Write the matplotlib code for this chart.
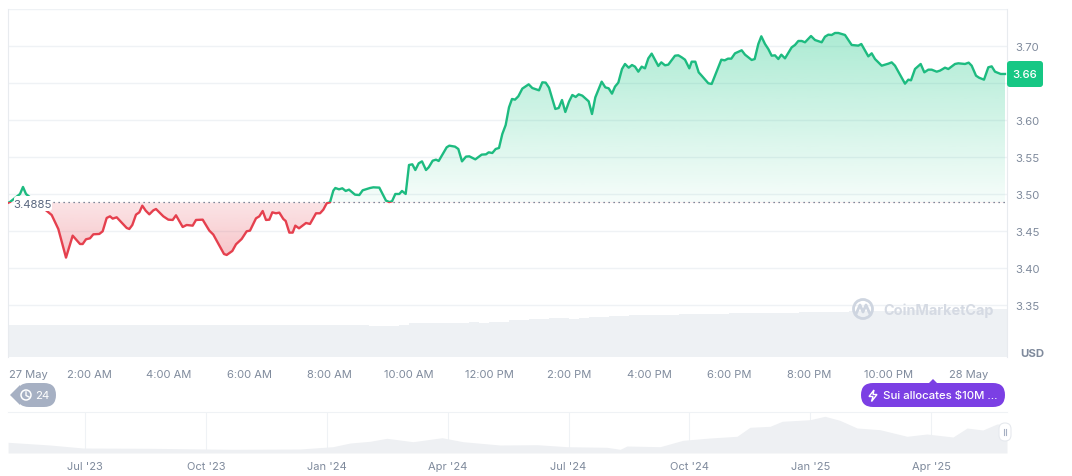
import matplotlib
matplotlib.use('Agg')
import matplotlib.pyplot as plt
import numpy as np
from matplotlib.patches import Circle, FancyBboxPatch, PathPatch, Polygon, Rectangle
from matplotlib.path import Path

plt.rcParams['font.family'] = ['Inter', 'DejaVu Sans']

# hours since 27 May 00:00
hours = [-0.025, 0.025, 0.275, 0.35, 0.425, 0.7,
         1.067, 1.233, 1.425, 1.592, 1.775, 1.842, 1.925, 2.025, 2.108, 2.258, 2.342, 2.442, 2.525, 2.592,
         2.692, 2.942, 3.008, 3.083, 3.175, 3.258, 3.333, 3.417, 3.508, 3.608, 3.675, 3.858, 3.983, 4.092,
         4.175, 4.342, 4.442, 4.592, 4.675, 4.842, 5.008, 5.108, 5.375, 5.442, 5.583, 5.675, 5.817, 5.942,
         6.025, 6.175, 6.258, 6.342, 6.425, 6.508, 6.583, 6.675, 6.758, 6.858, 6.917, 7.008, 7.092, 7.158,
         7.25, 7.425, 7.525, 7.675, 7.775, 7.858, 7.942,
         8.025, 8.108, 8.158, 8.25, 8.333, 8.417, 8.5, 8.65, 8.758, 8.842, 9.025, 9.108, 9.258, 9.425, 9.508,
         9.575, 9.658, 9.758, 9.825, 9.917, 10.0, 10.083, 10.158, 10.242, 10.325, 10.425, 10.492, 10.592,
         10.675, 10.742, 10.942, 11.008, 11.15, 11.233, 11.325, 11.425, 11.508, 11.658, 11.817, 11.925,
         11.992, 12.083, 12.167, 12.25, 12.333, 12.417, 12.5, 12.575, 12.65, 12.733, 12.833, 12.992, 13.083,
         13.25, 13.333, 13.417, 13.5, 13.658, 13.742, 13.825, 13.908, 14.0, 14.083, 14.167, 14.242, 14.333,
         14.492, 14.575, 14.658, 14.817, 14.908, 14.992, 15.075, 15.15, 15.233, 15.325, 15.4, 15.492, 15.575,
         15.65, 15.733, 15.817, 15.9, 15.983, 16.067, 16.233, 16.308, 16.4, 16.483, 16.65, 16.733, 16.817,
         16.9, 17.008,
         17.067, 17.158, 17.242, 17.317, 17.483, 17.567, 17.808, 17.892, 17.975, 18.058, 18.15, 18.317, 18.4,
         18.567, 18.642, 18.733, 18.808, 18.9, 18.983, 19.067, 19.15, 19.233, 19.308, 19.4, 19.567, 19.65,
         19.733, 19.817, 19.9, 20.05, 20.15, 20.317, 20.4, 20.483, 20.567, 20.65, 20.733, 20.9, 21.067, 21.233,
         21.308, 21.483, 21.567, 21.65, 21.817, 21.983, 22.067, 22.15, 22.4, 22.483, 22.55, 22.65, 22.792,
         22.883, 22.983, 23.067, 23.192, 23.275, 23.4, 23.483, 23.65, 23.733, 23.9, 23.992, 24.067, 24.175,
         24.25, 24.375, 24.483, 24.567, 24.65, 24.792, 24.9]
price = [3.488, 3.4892, 3.5, 3.5095, 3.5, 3.488,
         3.4716, 3.4527, 3.414, 3.4437, 3.4324, 3.4324, 3.4388, 3.4401, 3.4455, 3.446, 3.4496, 3.4676, 3.4698, 3.4667,
         3.4685, 3.4541, 3.4527, 3.4581, 3.4721, 3.4752, 3.4842, 3.4775, 3.4725, 3.4779, 3.4797, 3.4698, 3.4653, 3.4649,
         3.4712, 3.4554, 3.4581, 3.4572, 3.4649, 3.4653, 3.4505, 3.4451, 3.4189, 3.4176, 3.423, 3.432, 3.4392, 3.4496,
         3.4505, 3.4671, 3.4698, 3.477, 3.4649, 3.4653, 3.4752, 3.4739, 3.4748, 3.4662, 3.4635, 3.4478, 3.4478, 3.4572,
         3.4536, 3.4608, 3.4595, 3.4739, 3.4739, 3.4788, 3.4874,
         3.4888, 3.5045, 3.5081, 3.5063, 3.5077, 3.5041, 3.5059, 3.4991, 3.4986, 3.505, 3.5081, 3.509, 3.5086, 3.491, 3.4892,
         3.4901, 3.5, 3.5, 3.5041, 3.5, 3.5392, 3.5401, 3.5324, 3.5414, 3.5441, 3.5324, 3.536, 3.545,
         3.5464, 3.5446, 3.5631, 3.5653, 3.564, 3.5608, 3.5441, 3.5505, 3.5509, 3.5468, 3.5532, 3.5536,
         3.5563, 3.5554, 3.5608, 3.5622, 3.5811, 3.5932, 3.6171, 3.6284, 3.6275, 3.632, 3.6424, 3.6482, 3.6432,
         3.6401, 3.6509, 3.6505, 3.6437, 3.6149, 3.6162, 3.627, 3.6108, 3.6248, 3.6338, 3.6311, 3.6347, 3.6329,
         3.6252, 3.6081, 3.6306, 3.6518, 3.6441, 3.6428, 3.6356, 3.6451, 3.6505, 3.6689, 3.6757, 3.6707, 3.6743,
         3.6721, 3.6653, 3.6721, 3.6698, 3.6833, 3.6897, 3.673, 3.6779, 3.6739, 3.6748, 3.6869, 3.6874, 3.6847,
         3.6815, 3.6698,
         3.6788, 3.6788, 3.6644, 3.6599, 3.6496, 3.6487, 3.6815, 3.6806, 3.6829, 3.6829, 3.6901, 3.6942, 3.6883,
         3.6811, 3.6824, 3.7027, 3.7131, 3.7027, 3.6959, 3.6869, 3.6874, 3.6824, 3.6883, 3.6833, 3.6982, 3.7014,
         3.7068, 3.7068, 3.705, 3.7135, 3.7081, 3.705, 3.7126, 3.7153, 3.7149, 3.7176, 3.7176, 3.7149, 3.7014, 3.7005,
         3.7027, 3.686, 3.6901, 3.6824, 3.6734, 3.6761, 3.6779, 3.6734, 3.6491, 3.6545, 3.6536, 3.6689, 3.6757,
         3.6644, 3.668, 3.668, 3.6653, 3.6667, 3.6707, 3.6689, 3.6757, 3.6766, 3.6757, 3.6775, 3.6734, 3.6599,
         3.6572, 3.6545, 3.6712, 3.6725, 3.6653, 3.6622, 3.6622]

base_price = 3.4885
last_price = 3.662

# volume read every 15 minutes, relative height
volume = [32, 32, 32, 32, 32.5, 32, 32, 32, 32.5, 32.5, 32, 32, 32, 32, 32.5, 32.5, 32, 32, 32, 32,
          32.5, 32, 32, 32, 32, 32.5, 32.5, 32, 32, 32, 32, 32, 32, 32.5, 32, 32, 31.5, 31.5, 31.5, 32,
          34, 34, 34.5, 34.5, 34.5, 34.5, 35, 34.5, 35, 35,
          37, 37.5, 38, 38.5, 39, 39, 38.5, 39, 40, 40.5,
          41, 41.5, 42, 42, 42, 42.5, 42.5, 43, 43, 43,
          43.5, 43.5, 44, 44, 44, 44, 44, 44.5, 44.5, 45,
          45, 45, 45.5, 45.5, 46, 46, 46, 46, 46.5, 46.5,
          47, 47, 47, 47, 47.5, 47.5, 48, 48, 48, 48]

# overview strip, months since Jul '23
overview_months = [-1.91, -0.87, -0.05, 1.61, 3.67, 5.33, 6.15, 6.58, 7.07, 7.49, 8.14, 8.86, 9.38, 10.3, 11.22,
                   11.96, 12.95, 13.28, 13.45, 14.27, 14.84, 15.51, 16.18, 16.5, 17.0, 17.3, 17.99, 18.36, 18.73,
                   19.16, 19.73, 20.4, 20.89, 21.54, 21.89, 22.28, 22.63, 22.88]
overview_values = [10.7, 8, 5, 4.7, 3.7, 4, 6.3, 10, 11.7, 14.7, 11.3, 15.3, 11.3, 8, 8.3,
                   6.3, 5.7, 3.7, 7, 6.3, 12.7, 15, 16.7, 25.7, 26.7, 31.7, 33.3, 36.7, 32.7,
                   25, 23.3, 16.7, 19, 16, 25, 23, 29, 29]

y_ticks = [3.35, 3.40, 3.45, 3.50, 3.55, 3.60, 3.65, 3.70, 3.75]
y_labels = ['3.35', '3.40', '3.45', '3.50', '3.55', '3.60', '', '3.70', '']
x_ticks = [0, 2, 4, 6, 8, 10, 12, 14, 16, 18, 20, 22, 24]
x_labels = ['27 May', '2:00 AM', '4:00 AM', '6:00 AM', '8:00 AM', '10:00 AM', '12:00 PM', '2:00 PM',
            '4:00 PM', '6:00 PM', '8:00 PM', '10:00 PM', '28 May']
overview_ticks = [0, 3, 6, 9, 12, 15, 18, 21]
overview_labels = ["Jul '23", "Oct '23", "Jan '24", "Apr '24", "Jul '24", "Oct '24", "Jan '25", "Apr '25"]

GREEN = '#16c784'
LINE_GREEN = '#1dbb80'
RED = '#e5404e'
GRID = '#eff2f5'
TEXT = '#7f8a9c'
W, H = 1072, 477


def px_rect(x0, y0, x1, y1):
    return [x0 / W, 1 - y1 / H, (x1 - x0) / W, (y1 - y0) / H]


def gradient(color, top_alpha, bottom_alpha):
    rgba = np.zeros((256, 1, 4))
    rgba[..., :3] = matplotlib.colors.to_rgb(color)
    rgba[..., 3] = np.linspace(top_alpha, bottom_alpha, 256)[:, None]
    return rgba


fig = plt.figure(figsize=(W / 100, H / 100), dpi=100)

# volume behind the price
vol_ax = fig.add_axes(px_rect(8, 10, 1007, 358))
vol_ax.bar(np.arange(len(volume)) * 0.25, volume, width=0.25, align='edge', color='#eef1f4', linewidth=0)
vol_ax.set_xlim(-0.025, 24.95)
vol_ax.set_ylim(0, 348)
vol_ax.axis('off')

ax = fig.add_axes(px_rect(8, 10, 1007, 358))
ax.patch.set_alpha(0)
ylim = (3.2797, 3.75)
xlim = (-0.025, 24.95)

verts = list(zip(hours, price)) + [(hours[-1], base_price), (hours[0], base_price)]
clip = PathPatch(Path(verts + [verts[0]], closed=True), transform=ax.transData, fc='none', ec='none')
ax.add_patch(clip)
green_fill = ax.imshow(gradient(GREEN, 0.36, 0.04), extent=(xlim[0], xlim[1], base_price, 3.72), aspect='auto',
                       interpolation='bilinear', zorder=1)
green_fill.set_clip_path(clip)
red_fill = ax.imshow(gradient(RED, 0.14, 0.32), extent=(xlim[0], xlim[1], 3.41, base_price), aspect='auto',
                     interpolation='bilinear', zorder=1)
red_fill.set_clip_path(clip)

up, = ax.plot(hours, price, color=LINE_GREEN, lw=1.7, zorder=3, solid_joinstyle='round')
up.set_clip_path(Rectangle((xlim[0], base_price), xlim[1] - xlim[0], 1, transform=ax.transData))
down, = ax.plot(hours, price, color=RED, lw=1.7, zorder=3, solid_joinstyle='round')
down.set_clip_path(Rectangle((xlim[0], 3.0), xlim[1] - xlim[0], base_price - 3.0, transform=ax.transData))

ax.plot([1.1, xlim[1]], [base_price, base_price], color='#58667e', lw=0.9, dashes=(1, 3), zorder=2)

ax.set_xlim(*xlim)
ax.set_ylim(*ylim)
ax.set_yticks(y_ticks, y_labels)
ax.set_xticks(x_ticks, x_labels)
ax.yaxis.tick_right()
ax.grid(axis='y', color=GRID, lw=1)
ax.set_axisbelow(True)
ax.tick_params(axis='y', length=0, pad=6, labelsize=8.2, labelcolor=TEXT)
ax.tick_params(axis='x', length=0, pad=9, labelsize=8, labelcolor=TEXT)
ax.get_xticklabels()[0].set_ha('left')
for side in ['top', 'bottom']:
    ax.spines[side].set_visible(False)
for side in ['left', 'right']:
    ax.spines[side].set_color('#e8ebef')

# overview strip
mini = fig.add_axes(px_rect(8, 413, 1007, 454))
mini.fill_between(overview_months, overview_values, 0, color='#eef0f3', linewidth=0, zorder=2)
mini.set_xlim(-1.911, 22.88)
mini.set_ylim(0, 41)
mini.set_yticks([])
mini.set_xticks(overview_ticks, overview_labels)
mini.grid(axis='x', color=GRID, lw=0.8)
mini.set_axisbelow(True)
mini.tick_params(axis='x', length=0, pad=6, labelsize=8, labelcolor=TEXT)
for side in ['left', 'right', 'bottom']:
    mini.spines[side].set_visible(False)
mini.spines['top'].set_color(GRID)

# decorations in pixel coordinates
ov = fig.add_axes([0, 0, 1, 1], zorder=5)
ov.set_xlim(0, W)
ov.set_ylim(H, 0)
ov.axis('off')

ov.add_patch(FancyBboxPatch((14, 197), 38, 15, boxstyle='round,pad=0,rounding_size=3', fc='white', ec='none'))
ov.text(33, 205, '3.4885', ha='center', va='center', fontsize=8.2, color='#58667e')

ov.add_patch(FancyBboxPatch((1007, 62), 36, 26, boxstyle='round,pad=0,rounding_size=3', fc=GREEN, ec='none'))
ov.text(1025, 75, '3.66', ha='center', va='center', fontsize=8.2, color='white', fontweight='medium')
ov.text(1032, 354.5, 'USD', ha='center', va='center', fontsize=8.2, color=TEXT, fontweight='bold')

# watermark
ov.add_patch(Circle((863, 310), 9.5, fc='none', ec='#ced5e0', lw=2))
ov.plot([856, 860, 863, 866, 870], [315, 306, 313, 306, 315], color='#ced5e0', lw=2)
ov.text(883, 310.5, 'CoinMarketCap', ha='left', va='center', fontsize=10.4, color='#d5dae3', fontweight='bold')

# history pill
ov.add_patch(FancyBboxPatch((17, 384), 39, 24, boxstyle='round,pad=0,rounding_size=12', fc='#a6b0c3', ec='none'))
ov.add_patch(Polygon([(10, 396), (20, 386), (20, 406)], fc='#a6b0c3', ec='none'))
ov.add_patch(Circle((26, 396), 5, fc='none', ec='white', lw=1.1))
ov.plot([26, 26, 29], [393, 396.5, 398], color='white', lw=1)
ov.text(42.5, 396, '24', ha='center', va='center', fontsize=8.2, color='white')

# news pill
ov.add_patch(FancyBboxPatch((861, 384), 144, 24, boxstyle='round,pad=0,rounding_size=12', fc='#7b3fe4', ec='none'))
ov.add_patch(Polygon([(928, 385), (933, 380), (938, 385)], fc='#7b3fe4', ec='none'))
ov.add_patch(Polygon([(874, 391), (869, 397.5), (873, 397.5), (871.5, 402.5), (877, 395.5), (873, 395.5)],
                     fc='none', ec='white', lw=1))
ov.text(883, 396, 'Sui allocates $10M ...', ha='left', va='center', fontsize=8.2, color='white',
        fontweight='medium')

# overview handle
ov.add_patch(FancyBboxPatch((999, 424), 12, 18, boxstyle='round,pad=0,rounding_size=6', fc='white', ec='#e6e9ee', lw=0.8))
ov.plot([1003.7, 1003.7], [430, 436], color='#a6b0c3', lw=0.8)
ov.plot([1006.3, 1006.3], [430, 436], color='#a6b0c3', lw=0.8)

fig.savefig('out.png', dpi=100)
